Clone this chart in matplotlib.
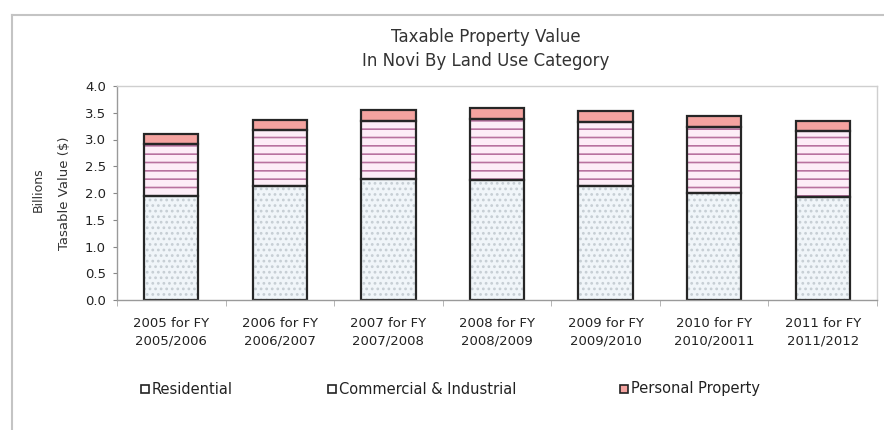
import numpy as np
import matplotlib.pyplot as plt
from matplotlib.patches import Rectangle
from matplotlib.lines import Line2D

# taxable value by land use, billions of dollars
years = ["2005 for FY\n2005/2006", "2006 for FY\n2006/2007", "2007 for FY\n2007/2008",
         "2008 for FY\n2008/2009", "2009 for FY\n2009/2010", "2010 for FY\n2010/20011",
         "2011 for FY\n2011/2012"]
residential = [1.94, 2.14, 2.26, 2.25, 2.13, 2.00, 1.93]
commercial = [0.98, 1.04, 1.09, 1.13, 1.19, 1.24, 1.22]
personal = [0.18, 0.18, 0.21, 0.20, 0.21, 0.20, 0.20]
yticks = [0.0, 0.5, 1.0, 1.5, 2.0, 2.5, 3.0, 3.5, 4.0]

plt.rcParams['font.family'] = 'DejaVu Sans'
plt.rcParams['hatch.linewidth'] = 1.2

W, H = 884, 430
fig = plt.figure(figsize=(W/100, H/100), dpi=100)
ax = fig.add_axes([117/W, 1-300/H, 760/W, 214/H])

x = np.arange(len(years))
res = np.array(residential)
com = np.array(commercial)
per = np.array(personal)
bw = 0.5
edge = '#262626'

# hatched fills first (hatch takes the edge colour), then the dark outlines
ax.bar(x, res, bw, color='#f0f5f9', edgecolor='#c6ced4', hatch='...', lw=0)
ax.bar(x, com, bw, bottom=res, color='#fdedf7', edgecolor='#b8729f', hatch='--', lw=0)
ax.bar(x, per, bw, bottom=res+com, color='#f4a3a0', lw=0)
for vals, bot in [(res, 0), (com, res), (per, res+com)]:
    ax.bar(x, vals, bw, bottom=bot, fill=False, edgecolor=edge, lw=1.6)

ax.set_xlim(-0.5, len(years)-0.5)
ax.set_ylim(0, 4.0)
ax.set_yticks(yticks)
ax.set_yticklabels(["%.1f" % v for v in yticks], fontsize=9.5, color='#222222')
ax.set_xticks(x)
ax.set_xticklabels(years, fontsize=9.5, color='#222222', linespacing=1.45)
ax.set_xticks(np.arange(-0.5, len(years)), minor=True)
ax.tick_params(axis='x', which='major', length=0, pad=12)
ax.tick_params(axis='x', which='minor', length=4, color='#aaaaaa')
ax.tick_params(axis='y', length=3, color='#888888', pad=5)

for s in ['left', 'bottom']:
    ax.spines[s].set_color('#9a9a9a')
for s in ['top', 'right']:
    ax.spines[s].set_color('#cfcfcf')
for s in ax.spines.values():
    s.set_linewidth(1.0)

ax.set_ylabel("Tasable Value ($)", fontsize=9.5, color='#333333', labelpad=10)
fig.text(38/W, 1-190/H, "Billions", rotation=90, fontsize=9, color='#333333',
         ha='center', va='center')

fig.text(486/W, 1-37/H, "Taxable Property Value", fontsize=12, color='#333333',
         ha='center', va='center')
fig.text(486/W, 1-61/H, "In Novi By Land Use Category", fontsize=12, color='#333333',
         ha='center', va='center')

# legend squares and labels
legend = [("Residential", '#ffffff', 141), ("Commercial & Industrial", '#ffffff', 328),
          ("Personal Property", '#f4a3a0', 620)]
for name, col, px in legend:
    fig.add_artist(Rectangle((px/W, 1-393/H), 8/W, 8/H, transform=fig.transFigure,
                             facecolor=col, edgecolor='#222222', lw=1.2))
    fig.text((px+11)/W, 1-389/H, name, fontsize=10.5, color='#222222', va='center')

# outer chart frame
fig.add_artist(Line2D([12/W, 12/W], [0, 1-15/H], transform=fig.transFigure,
                      color='#c4c4c4', lw=1.5))
fig.add_artist(Line2D([12/W, 1], [1-15/H, 1-15/H], transform=fig.transFigure,
                      color='#c4c4c4', lw=1.5))

fig.savefig("out.png", dpi=100)
